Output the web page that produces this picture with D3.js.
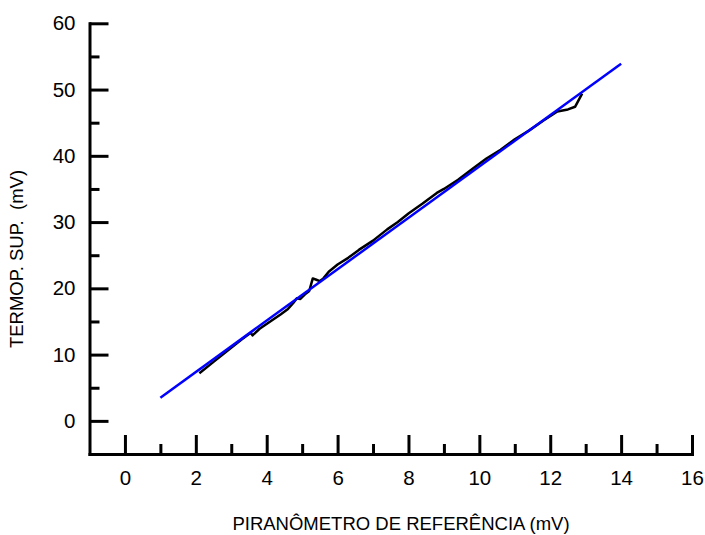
<!DOCTYPE html>
<meta charset="utf-8">
<style>
  body { margin: 0; background: #fff; }
  text { font-family: "Liberation Sans", Arial, sans-serif; }
</style>
<script src="https://d3js.org/d3.v7.min.js"></script>

<svg id="chart" width="705" height="535"></svg>

<script>

// measured series (black) : piranometro x termopilha
var medX = [2.1, 2.5, 2.9, 3.3, 3.55, 3.6, 3.8, 4.1, 4.4, 4.6, 4.75, 4.85, 4.95, 5.1, 5.2, 5.3,
            5.4, 5.5, 5.6, 5.75, 6.0, 6.3, 6.6, 7.0, 7.4, 7.7, 8.0, 8.4, 8.8, 9.0, 9.4, 9.8,
            10.2, 10.6, 11.0, 11.4, 11.8, 12.2, 12.5, 12.7, 12.9];
var medY = [7.2, 8.9, 10.6, 12.3, 13.3, 12.9, 13.9, 15.0, 16.1, 16.9, 17.8, 18.5, 18.4, 19.2, 19.6, 21.5,
            21.3, 21.1, 21.5, 22.5, 23.6, 24.6, 25.8, 27.2, 28.9, 30.0, 31.3, 32.8, 34.4, 35.0, 36.4, 38.0,
            39.6, 40.9, 42.5, 43.8, 45.3, 46.7, 47.0, 47.4, 49.4];

// fitted line (blue)
var fitX = [1, 14];
var fitY = [3.5, 53.9];

// ticks
var xMajor = [0, 2, 4, 6, 8, 10, 12, 14, 16];
var xMinor = [1, 3, 5, 7, 9, 11, 13, 15];
var yMajor = [0, 10, 20, 30, 40, 50, 60];
var yMinor = [5, 15, 25, 35, 45, 55];

var xTitle = "PIRANÔMETRO DE REFERÊNCIA (mV)";
var yTitle = "TERMOP. SUP.  (mV)";

var svg = d3.select("svg"),
  width = +svg.attr("width"),
  height = +svg.attr("height");

var x = d3.scaleLinear().domain([-1, 16]).range([89.5, 692]);
var y = d3.scaleLinear().domain([-5, 60]).range([454, 23.3]);

// axes
var gx = svg.append("g").attr("transform", "translate(0," + y(-5) + ")");
gx.call(d3.axisBottom(x).tickValues(xMajor).tickSize(-19).tickSizeOuter(0).tickPadding(16.5));
gx.append("g").call(d3.axisBottom(x).tickValues(xMinor).tickSize(-10).tickSizeOuter(0).tickFormat(""))
  .select(".domain").remove();

var gy = svg.append("g").attr("transform", "translate(" + x(-1) + ",0)");
gy.call(d3.axisLeft(y).tickValues(yMajor).tickSize(-19).tickSizeOuter(0).tickPadding(14));
gy.append("g").call(d3.axisLeft(y).tickValues(yMinor).tickSize(-10).tickSizeOuter(0).tickFormat(""))
  .select(".domain").remove();

svg.selectAll(".domain").attr("stroke", "#000").attr("stroke-width", 3).attr("stroke-linecap", "square");
svg.selectAll(".tick line").attr("stroke", "#000").attr("stroke-width", 3);
svg.selectAll(".tick text")
  .attr("fill", "#000")
  .style("font-size", "20.5px")
  .style("font-family", "'Liberation Sans', Arial, sans-serif");

// titles
svg.append("text")
  .attr("x", 401)
  .attr("y", 529.5)
  .attr("text-anchor", "middle")
  .style("font-size", "18.5px")
  .text(xTitle);

svg.append("text")
  .attr("transform", "translate(23,259) rotate(-90)")
  .attr("text-anchor", "middle")
  .style("font-size", "18.5px")
  .style("white-space", "pre")
  .text(yTitle);

// lines
var line = d3.line()
  .x(function(d) { return x(d[0]); })
  .y(function(d) { return y(d[1]); });

svg.append("path")
  .datum(d3.zip(medX, medY))
  .attr("fill", "none")
  .attr("stroke", "#000")
  .attr("stroke-width", 2.5)
  .attr("stroke-linejoin", "round")
  .attr("d", line);

svg.append("path")
  .datum(d3.zip(fitX, fitY))
  .attr("fill", "none")
  .attr("stroke", "#0000ff")
  .attr("stroke-width", 2.5)
  .attr("d", line);

</script>
